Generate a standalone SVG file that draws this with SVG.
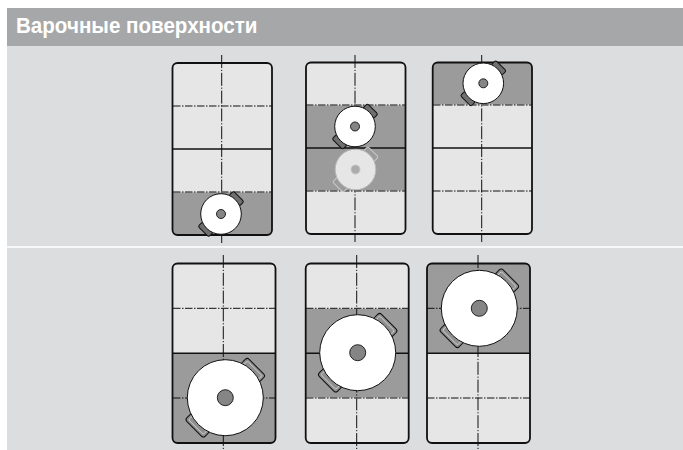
<svg xmlns="http://www.w3.org/2000/svg" width="683" height="450" viewBox="0 0 683 450">
<style>
.top{fill:#e6e6e7;stroke:none}
.on{fill:#9b9b9c;stroke:none}
.out{fill:none;stroke:#111;stroke-width:1.8}
.solid{stroke:#111;stroke-width:1.4;fill:none}
.under{stroke:#e6e6e7;stroke-width:1;fill:none}
.dash{stroke:#111;stroke-width:1;fill:none;stroke-dasharray:7.500 1.500 1.500 1.500}
.vd{stroke:#111;stroke-width:1;fill:none;stroke-dasharray:13 1.800 1.200 1.800}
.pot{fill:#fff;stroke:#111;stroke-width:1}
.core{fill:#858586;stroke:#111;stroke-width:.9}
.hd{fill:#6f6f70;stroke:#111;stroke-width:1}
.hb{fill:#8f8f90;stroke:#111;stroke-width:1}
.hi{fill:none;stroke:#cfcfd0;stroke-width:.9}
.gh{fill:#9b9b9c;stroke:#c9c9ca;stroke-width:1}
.gp{fill:#e6e6e7;stroke:#b9b9ba;stroke-width:1}
.gc{fill:#acacad;stroke:#c4c4c5;stroke-width:.9}
.title{font-family:"Liberation Sans",Arial,sans-serif;font-weight:bold;font-size:22px;fill:#fff}
</style>
<defs>
<g id="small">
<rect class="hd" x="-7.500" y="-25" width="15" height="6.500" rx="1.800" transform="rotate(45)"/>
<rect class="hd" x="-7.500" y="18.500" width="15" height="6.500" rx="1.800" transform="rotate(45)"/>
<circle class="pot" r="20.300"/>
<circle class="core" r="4.500"/>
</g>
<g id="big">
<rect class="hb" x="-13" y="-44" width="26" height="10" rx="2.800" transform="rotate(45)"/>
<rect class="hb" x="-13" y="34" width="26" height="10" rx="2.800" transform="rotate(45)"/>
<rect class="hi" x="-10.500" y="-41.500" width="21" height="5" rx="1.800" transform="rotate(45)"/>
<rect class="hi" x="-10.500" y="36.500" width="21" height="5" rx="1.800" transform="rotate(45)"/>
<circle class="pot" r="38"/>
<circle class="core" r="8"/>
</g>
</defs>
<g id="background">
<rect x="7" y="8" width="676" height="38" fill="#a6a7a9"/>
<rect x="7" y="46" width="676" height="404" fill="#dcddde"/>
<rect x="7" y="246" width="676" height="2" fill="#f7f7f7"/>
</g>
<g id="title"><text class="title" x="16" y="33" textLength="241.500" lengthAdjust="spacingAndGlyphs">Варочные поверхности</text></g>
<g id="hob-1">
<rect class="top" x="172.500" y="63" width="99.500" height="172" rx="5"/>
<path class="on" d="M172.500 192H272V230a5 5 0 0 1-5 5H177.500a5 5 0 0 1-5-5Z"/>
<path class="vd" d="M221.700 55V243"/><path class="under" d="M173 192H272"/><path class="dash" d="M173 106H272M173 192H272"/><path class="solid" d="M172.500 149H272"/>
<rect class="out" x="172.500" y="63" width="99.500" height="172" rx="5"/>
<use href="#small" x="221" y="214"/>
</g>
<g id="hob-2">
<rect class="top" x="306" y="62.500" width="99.500" height="171.500" rx="5"/>
<rect class="on" x="306" y="105" width="99.500" height="86"/>
<path class="vd" d="M355 55V242"/><path class="under" d="M306 105H405.500M306 191H405.500"/><path class="dash" d="M306 105H405.500M306 191H405.500"/><path class="solid" d="M306 148H405.500"/>
<rect class="out" x="306" y="62.500" width="99.500" height="171.500" rx="5"/>
<use href="#small" x="355" y="126.500"/>
<g transform="translate(355.500 169.500)">
<rect class="gh" x="-7.500" y="-25" width="15" height="6.500" rx="1.800" transform="rotate(45)"/>
<rect class="gh" x="-7.500" y="18.500" width="15" height="6.500" rx="1.800" transform="rotate(45)"/>
<circle class="gp" r="20.300"/>
<circle class="gc" r="4.500"/>
</g>
</g>
<g id="hob-3">
<path class="top" d="M432.700 105H532V229a5 5 0 0 1-5 5H437.700a5 5 0 0 1-5-5Z"/>
<path class="on" d="M437.700 62.500H527a5 5 0 0 1 5 5V105H432.700V67.500a5 5 0 0 1 5-5Z"/>
<path class="vd" d="M481.700 55V242"/><path class="under" d="M433 105H532"/><path class="dash" d="M433 105H532M433 191H532"/><path class="solid" d="M432.700 148H532"/>
<rect class="out" x="432.700" y="62.500" width="99.300" height="171.500" rx="5"/>
<use href="#small" x="483.300" y="83.300"/>
</g>
<g id="hob-4">
<rect class="top" x="172.500" y="263.500" width="103" height="179.500" rx="5"/>
<path class="on" d="M172.500 353.300H275.500V438a5 5 0 0 1-5 5H177.500a5 5 0 0 1-5-5Z"/>
<path class="vd" d="M223.300 255V450"/><path class="dash" d="M173 308.300H275.500M173 398H275.500"/><path class="solid" d="M172.500 353.300H275.500"/>
<rect class="out" x="172.500" y="263.500" width="103" height="179.500" rx="5"/>
<use href="#big" x="225.300" y="397.700"/>
</g>
<g id="hob-5">
<rect class="top" x="305.700" y="263.500" width="103" height="179.500" rx="5"/>
<rect class="on" x="305.700" y="308.300" width="103" height="89.700"/>
<path class="vd" d="M356.700 255V450"/><path class="under" d="M306 308.300H408.700M306 398H408.700"/><path class="dash" d="M306 308.300H408.700M306 398H408.700"/><path class="solid" d="M305.700 353.300H408.700"/>
<rect class="out" x="305.700" y="263.500" width="103" height="179.500" rx="5"/>
<use href="#big" x="357.700" y="352.700"/>
</g>
<g id="hob-6">
<path class="top" d="M427 353.300H530V438a5 5 0 0 1-5 5H432a5 5 0 0 1-5-5Z"/>
<path class="on" d="M432 263.500H525a5 5 0 0 1 5 5V353.300H427V268.500a5 5 0 0 1 5-5Z"/>
<path class="vd" d="M478 255V450"/><path class="dash" d="M427 308.300H530M427 398H530"/><path class="solid" d="M427 353.300H530"/>
<rect class="out" x="427" y="263.500" width="103" height="179.500" rx="5"/>
<use href="#big" x="479.300" y="308.300"/>
</g>
</svg>
